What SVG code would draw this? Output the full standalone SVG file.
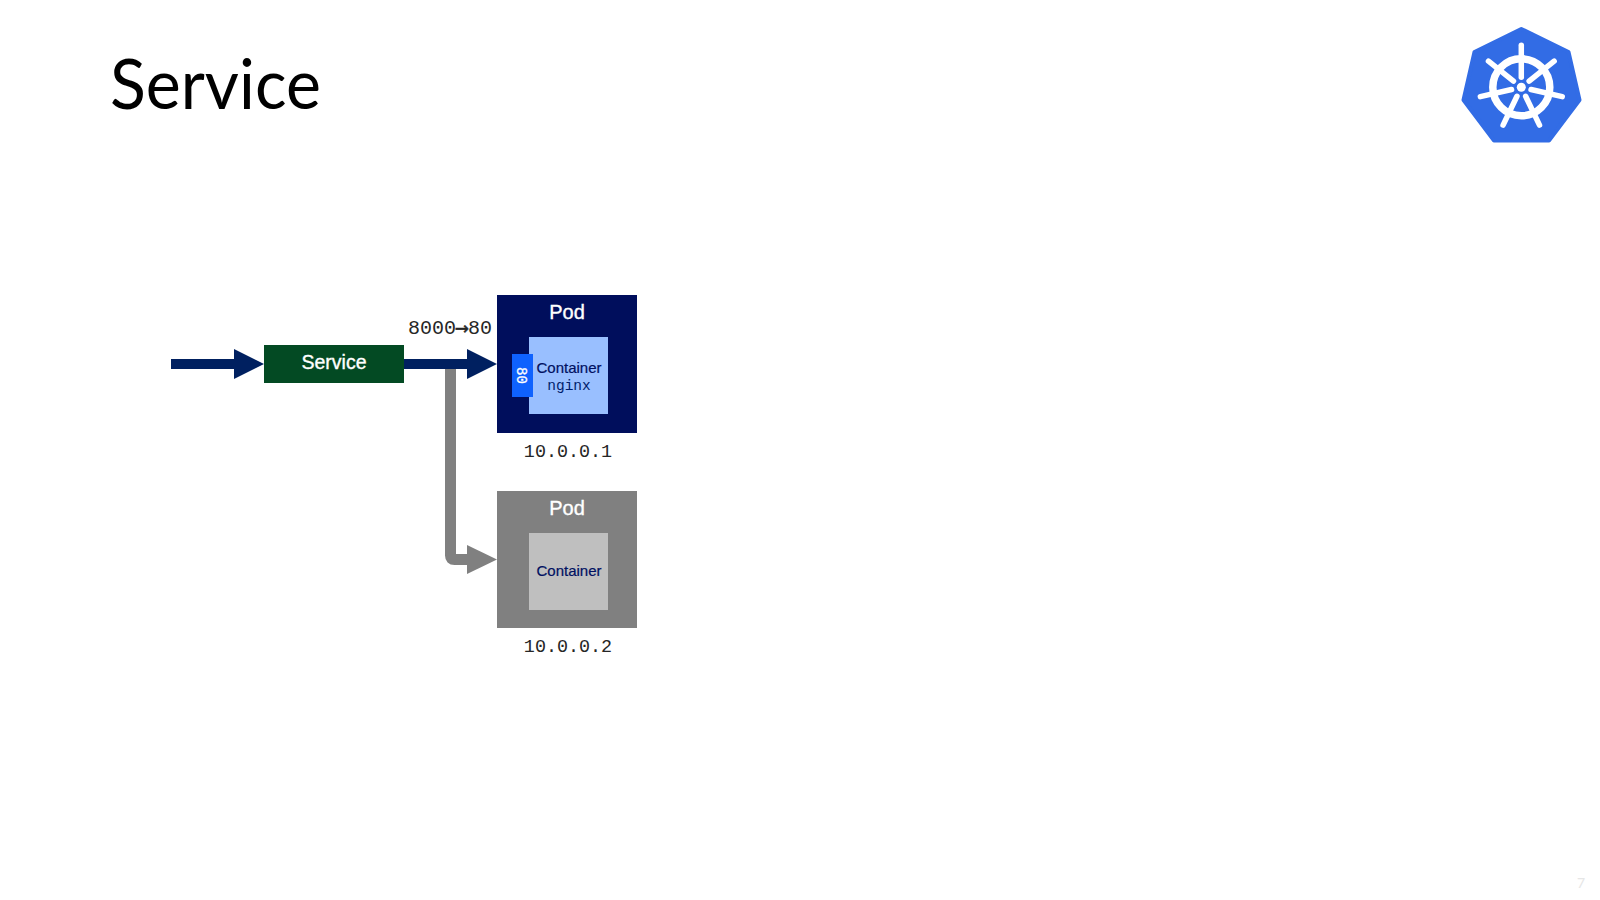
<svg xmlns="http://www.w3.org/2000/svg" width="1600" height="900" viewBox="0 0 1600 900">
<style>
.sans{font-family:"Liberation Sans",Arial,sans-serif}
.mono{font-family:"Liberation Mono","DejaVu Sans Mono",monospace}
.pod{font-size:20px;fill:#fff;stroke:#fff;stroke-width:.35px;text-anchor:middle}
.ctr{font-size:15px;fill:#001061;stroke:#001061;stroke-width:.2px;text-anchor:middle}
.ip{font-size:18.400px;fill:#262626;text-anchor:middle}
.spoke{stroke:#fff;stroke-width:5.500;stroke-linecap:round}
</style>
<defs>
<line id="spoke" class="spoke" x1="0" y1="-10" x2="0" y2="-42"/>
</defs>
<rect width="1600" height="900" fill="#fff"/>
<text id="title" x="110" y="109" font-family="Lato,'Open Sans',sans-serif" font-size="69" fill="#000" textLength="211" lengthAdjust="spacingAndGlyphs">Service</text>
<g id="connectors">
<path d="M450.500 369V555.500Q450.500 559.500 454.500 559.500H470" fill="none" stroke="#808080" stroke-width="11"/>
<polygon points="467,545 497,559.500 467,574" fill="#808080"/>
<rect x="171" y="359" width="65" height="10" fill="#002060"/>
<polygon points="234,349 264,364 234,379" fill="#002060"/>
<rect x="404" y="359" width="65" height="10" fill="#002060"/>
<polygon points="467,349 497,364 467,379" fill="#002060"/>
</g>
<g id="service">
<rect x="264" y="345" width="140" height="38" fill="#034a23"/>
<text class="sans" x="334" y="369" font-size="19.500" fill="#fff" stroke="#fff" stroke-width=".35" text-anchor="middle">Service</text>
</g>
<text id="port-map" class="mono" x="408" y="334" font-size="20" fill="#262626">8000<tspan font-family="'DejaVu Sans Mono',monospace" font-size="23" dx="-.900" dy="1" stroke="#262626" stroke-width=".4">→</tspan><tspan dx="-.900" dy="-1">80</tspan></text>
<g id="pod-1">
<rect x="497" y="295" width="140" height="138" fill="#000e5c"/>
<text class="sans pod" x="567" y="319">Pod</text>
<rect x="529" y="337" width="79" height="77" fill="#99bfff"/>
<text class="sans ctr" x="569" y="373">Container</text>
<text class="mono" x="569" y="390" font-size="14.500" fill="#001d6c" text-anchor="middle">nginx</text>
<rect x="512" y="354" width="21" height="43" fill="#0f62fe"/>
<text class="mono" transform="translate(516.500 375.500) rotate(90)" font-size="14" fill="#fff" stroke="#fff" stroke-width=".3" text-anchor="middle">80</text>
<text class="mono ip" x="568" y="456.500">10.0.0.1</text>
</g>
<g id="pod-2">
<rect x="497" y="491" width="140" height="137" fill="#808080"/>
<text class="sans pod" x="567" y="515">Pod</text>
<rect x="529" y="533" width="79" height="77" fill="#bfbfbf"/>
<text class="sans ctr" x="569" y="576">Container</text>
<text class="mono ip" x="568" y="652">10.0.0.2</text>
</g>
<g id="logo">
<polygon points="1521.300,29 1568.500,52 1579.500,100 1549,140.500 1494,140.500 1463.500,100 1474.500,52" fill="#326ce5" stroke="#326ce5" stroke-width="4" stroke-linejoin="round"/>
<g transform="translate(1521.300 87.300)">
<circle r="28.500" fill="none" stroke="#fff" stroke-width="7.500"/>
<circle r="4.500" fill="#fff"/>
<use href="#spoke"/>
<use href="#spoke" transform="rotate(51.430)"/>
<use href="#spoke" transform="rotate(102.860)"/>
<use href="#spoke" transform="rotate(154.290)"/>
<use href="#spoke" transform="rotate(205.710)"/>
<use href="#spoke" transform="rotate(257.140)"/>
<use href="#spoke" transform="rotate(308.570)"/>
</g>
</g>
<text id="page-number" x="1581" y="888" font-family="Lato,sans-serif" font-size="14" fill="#e6e6e6" text-anchor="middle">7</text>
</svg>
